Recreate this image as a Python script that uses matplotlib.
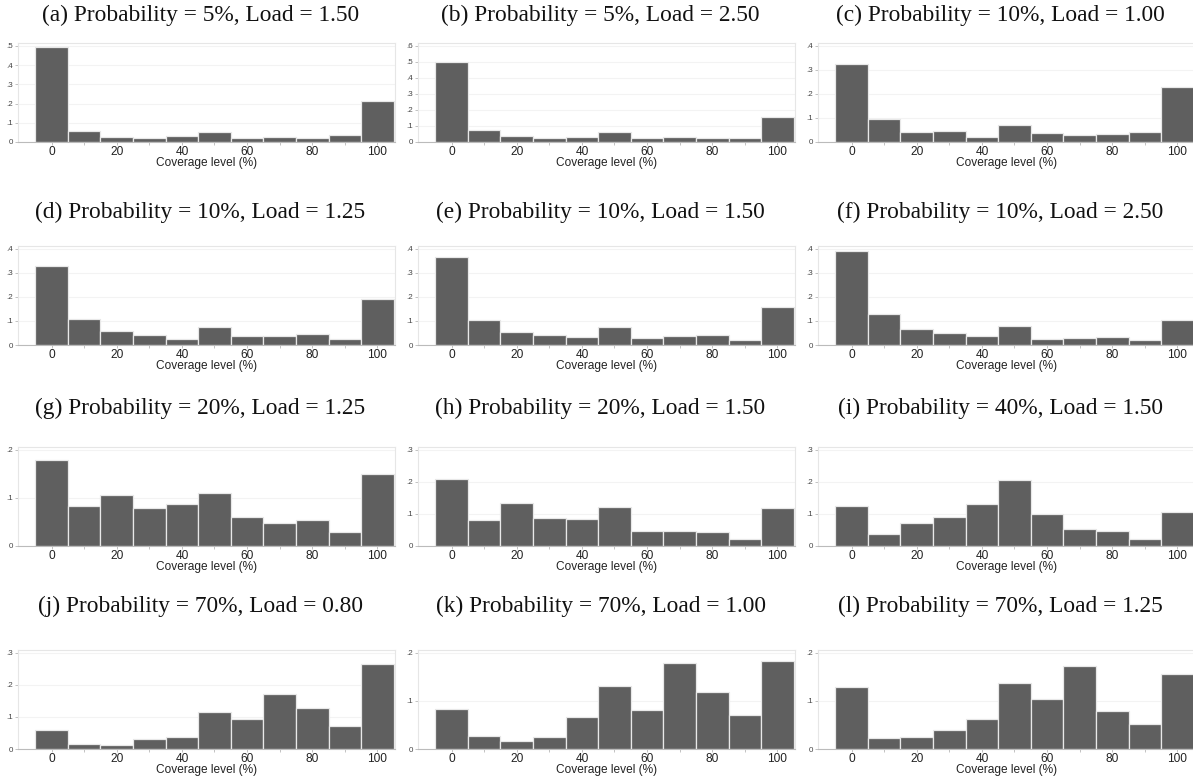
import matplotlib
matplotlib.use("Agg")
import matplotlib.pyplot as plt
import numpy as np

bins = [0, 10, 20, 30, 40, 50, 60, 70, 80, 90, 100]

titles = [
    "(a) Probability = 5%, Load = 1.50",
    "(b) Probability = 5%, Load = 2.50",
    "(c) Probability = 10%, Load = 1.00",
    "(d) Probability = 10%, Load = 1.25",
    "(e) Probability = 10%, Load = 1.50",
    "(f) Probability = 10%, Load = 2.50",
    "(g) Probability = 20%, Load = 1.25",
    "(h) Probability = 20%, Load = 1.50",
    "(i) Probability = 40%, Load = 1.50",
    "(j) Probability = 70%, Load = 0.80",
    "(k) Probability = 70%, Load = 1.00",
    "(l) Probability = 70%, Load = 1.25",
]

dens_a = [0.493, 0.057, 0.026, 0.019, 0.030, 0.054, 0.023, 0.026, 0.023, 0.037, 0.213]
dens_b = [0.500, 0.077, 0.035, 0.025, 0.031, 0.060, 0.023, 0.029, 0.027, 0.027, 0.159]
dens_c = [0.323, 0.094, 0.040, 0.047, 0.019, 0.070, 0.036, 0.030, 0.032, 0.040, 0.229]
dens_d = [0.330, 0.110, 0.057, 0.041, 0.024, 0.073, 0.039, 0.038, 0.045, 0.027, 0.193]
dens_e = [0.366, 0.106, 0.056, 0.041, 0.034, 0.076, 0.031, 0.038, 0.042, 0.022, 0.159]
dens_f = [0.392, 0.131, 0.067, 0.050, 0.036, 0.080, 0.027, 0.031, 0.032, 0.020, 0.103]
dens_g = [0.178, 0.083, 0.107, 0.080, 0.088, 0.111, 0.060, 0.048, 0.055, 0.029, 0.149]
dens_h = [0.209, 0.081, 0.134, 0.086, 0.083, 0.123, 0.048, 0.048, 0.044, 0.022, 0.119]
dens_i = [0.125, 0.037, 0.073, 0.091, 0.132, 0.206, 0.101, 0.052, 0.048, 0.022, 0.106]
dens_j = [0.060, 0.015, 0.011, 0.030, 0.037, 0.117, 0.094, 0.172, 0.128, 0.072, 0.265]
dens_k = [0.083, 0.028, 0.017, 0.025, 0.066, 0.131, 0.082, 0.179, 0.118, 0.071, 0.183]
dens_l = [0.129, 0.022, 0.024, 0.040, 0.062, 0.138, 0.105, 0.173, 0.079, 0.052, 0.156]

y_tops = [0.5, 0.6, 0.4, 0.4, 0.4, 0.4, 0.2, 0.3, 0.3, 0.3, 0.2, 0.2]
all_dens = [dens_a, dens_b, dens_c, dens_d, dens_e, dens_f,
            dens_g, dens_h, dens_i, dens_j, dens_k, dens_l]

W, H = 1193, 782
fig = plt.figure(figsize=(W / 100, H / 100), dpi=100)

col_left = [18, 418, 818]
ax_w = 377
row_top = [43, 246, 447, 650]
ax_h = 99
title_y = [15, 212, 408, 606]

def tick_fmt(v):
    if v == 0:
        return "0"
    s = f"{v:.1f}"
    return s.lstrip("0")

for idx, (dens, ttl, ytop) in enumerate(zip(all_dens, titles, y_tops)):
    r, c = divmod(idx, 3)
    left = col_left[c] / W
    bottom = 1 - (row_top[r] + ax_h) / H
    ax = fig.add_axes([left, bottom, ax_w / W, ax_h / H])
    ax.bar(bins, dens, width=10, color="#5f5f5f", edgecolor="#e8e8e8",
           linewidth=0.9, zorder=2)
    ax.set_xlim(-10.3, 105.4)
    ax.set_ylim(0, ytop * 1.03)
    yt = np.round(np.arange(0, ytop + 1e-9, 0.1), 1)
    ax.set_yticks(yt)
    ax.set_yticklabels([tick_fmt(v) for v in yt], fontsize=5.8,
                       family="Liberation Sans", color="#444444")
    ax.set_xticks([0, 20, 40, 60, 80, 100])
    ax.set_xticks([10, 30, 50, 70, 90], minor=True)
    ax.set_xticklabels(["0", "20", "40", "60", "80", "100"], fontsize=8.6,
                       family="Liberation Sans", color="#222222")
    ax.tick_params(axis="x", which="both", length=2, width=0.5,
                   color="#aaaaaa", pad=0.8)
    ax.tick_params(axis="y", length=2, width=0.5, color="#aaaaaa", pad=1.5)
    ax.grid(axis="y", color="#f3f3f3", linewidth=0.8, zorder=0)
    ax.set_axisbelow(True)
    for sp in ax.spines.values():
        sp.set_color("#e6e6e6")
        sp.set_linewidth(0.8)
    ax.spines["bottom"].set_color("#bbbbbb")
    ax.set_xlabel("Coverage level (%)", fontsize=8.6, family="Liberation Sans",
                  color="#222222", labelpad=-0.5)
    cx = (col_left[c] + ax_w / 2 - 6) / W
    fig.text(cx, 1 - title_y[r] / H, ttl, ha="center", va="center",
             fontsize=16.8, family="Liberation Serif", color="#111111")

fig.savefig("out.png", dpi=100)
